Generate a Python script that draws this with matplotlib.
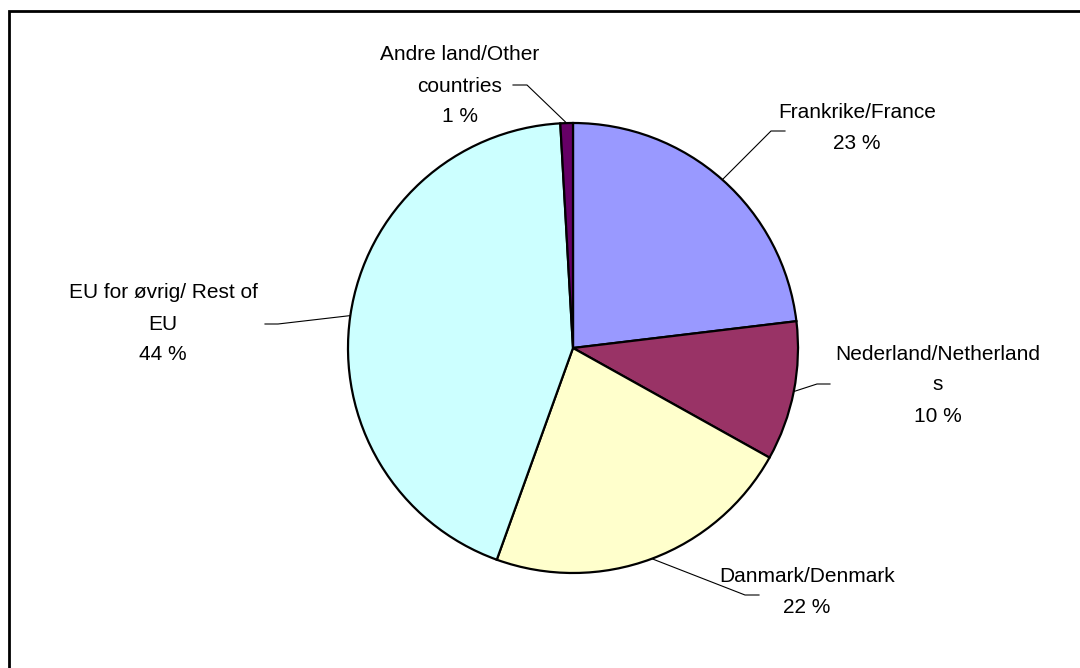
import numpy as np
import matplotlib.pyplot as plt
from matplotlib.patches import Rectangle

plt.rcParams['font.family'] = ['Liberation Sans', 'DejaVu Sans']

# data (share of total, %), clockwise from 12 o'clock
names = ["Frankrike/France", "Nederland/Netherland\ns", "Danmark/Denmark",
         "EU for øvrig/ Rest of\nEU", "Andre land/Other\ncountries"]
shares = [23.1, 10.0, 22.4, 43.6, 0.9]
colors = ["#9999FF", "#993366", "#FFFFCC", "#CCFFFF", "#660066"]

# label layout in pixels (x, y from top): text centre, leader elbow, leader end
text_pos = [(857, 128), (938, 385), (807, 592), (163, 324), (460, 86)]
elbow = [(771, 131), (817, 384), (745, 595), (278, 324), (527, 85)]
leader_end = [(785, 131), (830, 384), (759, 595), (265, 324), (513, 85)]

W, H = 1080, 668
cx, cy, r = 573, 348, 225

fig = plt.figure(figsize=(W / 100, H / 100), dpi=100)
ax = fig.add_axes([0, 0, 1, 1])

wedges, _ = ax.pie(shares, colors=colors, startangle=90, counterclock=False,
                   center=(cx, H - cy), radius=r, frame=True,
                   wedgeprops=dict(edgecolor='black', linewidth=1.6))
ax.set_xlim(0, W)
ax.set_ylim(0, H)
ax.axis('off')

for w, name, v, tp, el, le in zip(wedges, names, shares, text_pos, elbow, leader_end):
    mid = np.deg2rad((w.theta1 + w.theta2) / 2)
    sx = cx + r * np.cos(mid)
    sy = H - cy + r * np.sin(mid)
    ax.plot([sx, el[0], le[0]], [sy, H - el[1], H - le[1]], color='black', lw=0.8)
    ax.text(tp[0], H - tp[1], f"{name}\n{round(v)} %", ha='center', va='center',
            multialignment='center', fontsize=15, linespacing=1.8, color='black')

ax.add_patch(Rectangle((9, -20), W + 20, H - 11 + 20, fill=False,
                       edgecolor='black', lw=2, clip_on=False))

fig.savefig("out.png", dpi=100)
